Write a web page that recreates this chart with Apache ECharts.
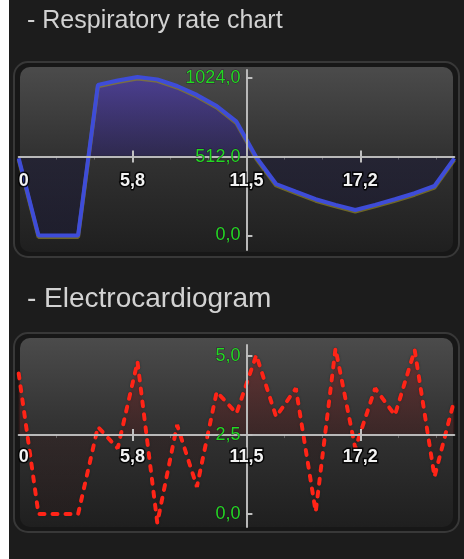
<!DOCTYPE html>
<html>
<head>
<meta charset="utf-8">
<script src="https://cdn.jsdelivr.net/npm/echarts@6/dist/echarts.min.js"></script>
<style>
html,body{margin:0;padding:0;background:#1c1c1c;}
#c{width:464px;height:559px;}
</style>
</head>
<body>
<div id="c"></div>
<script>
// ---------- data ----------
const xCategories = [0,1,2,3,4,5,6,7,8,9,10,11,12,13,14,15,16,17,18,19,20,21,22];
const xTickValues = [0, 5.75, 11.5, 17.25];
const xTickLabels = ['0', '5,8', '11,5', '17,2'];

const respTitle = '- Respiratory rate chart';
const respValues = [501, 0, 0, 0, 978, 1007, 1030, 1014, 971, 913, 841, 739, 508, 334, 284, 235, 198, 165, 198, 235, 274, 321, 501];
const respYTicks = [0, 512, 1024];
const respYLabels = ['0,0', '512,0', '1024,0'];
const respBaseline = 512;

const ecgTitle = '- Electrocardiogram';
const ecgValues = [4.45, 0, 0, 0, 2.76, 2.08, 4.82, -0.28, 2.82, 0.86, 3.87, 3.19, 5.03, 3.08, 3.98, 0.07, 5.24, 2.08, 3.98, 3.13, 5.19, 1.18, 3.61];
const ecgYTicks = [0, 2.5, 5];
const ecgYLabels = ['0,0', '2,5', '5,0'];
const ecgBaseline = 2.5;

// ---------- layout ----------
const G1 = {left: 18.7, top: 70, width: 435.6, height: 180, ymin: -95, ymax: 1075};
const G2 = {left: 18.7, top: 345, width: 435.6, height: 182, ymin: -0.41, ymax: 5.35};
const XMIN = 0, XMAX = 22;

function yPix(g, v){ return g.top + (g.ymax - v) / (g.ymax - g.ymin) * g.height; }
function xPix(g, v){ return g.left + (v - XMIN) / (XMAX - XMIN) * g.width; }

const chart = echarts.init(document.getElementById('c'), null, {renderer: 'canvas'});

function xAxes(g, gridIndex, base, labelMargin){
  const off = yPix(g, base) - (g.top + g.height);
  const common = {
    type: 'value', gridIndex: gridIndex, min: XMIN, max: XMAX, interval: 5.75,
    position: 'bottom', offset: off, z: 4,
    axisLine: {onZero: false, show: true, lineStyle: {color: '#b9b9b9', width: 2}},
    splitLine: {show: false}
  };
  return [
    Object.assign({}, common, {
      axisTick: {show: true, customValues: [5.75, 17.25], length: 6, inside: false, lineStyle: {color: '#c0c0c0', width: 2}},
      minorTick: {show: true, splitNumber: 3, length: 3, lineStyle: {color: 'rgba(200,200,200,0.35)', width: 1}},
      axisLabel: {
        show: true, customValues: xTickValues, margin: labelMargin,
        color: '#f2f2f2', fontSize: 18, fontWeight: 'bold', fontFamily: 'Liberation Sans, Arial, sans-serif',
        textBorderColor: 'rgba(0,0,0,0.85)', textBorderWidth: 3,
        alignMinLabel: 'left',
        formatter: function(v){ const i = xTickValues.indexOf(v); return i >= 0 ? xTickLabels[i] : ''; }
      }
    }),
    Object.assign({}, common, {
      axisLine: {show: false, onZero: false},
      axisTick: {show: true, customValues: [5.75, 17.25], length: 6, inside: true, lineStyle: {color: '#c0c0c0', width: 2}},
      axisLabel: {show: false}
    })
  ];
}

function yAxis(g, gridIndex, ticks, labels){
  const off = -(xPix(g, 11.5) - g.left);
  return {
    type: 'value', gridIndex: gridIndex, min: g.ymin, max: g.ymax, position: 'left', offset: off, z: 4,
    axisLine: {show: true, onZero: false, lineStyle: {color: '#b9b9b9', width: 2}},
    axisTick: {show: true, customValues: ticks, length: 6, inside: true, lineStyle: {color: '#c0c0c0', width: 2}},
    splitLine: {show: false},
    axisLabel: {
      show: true, customValues: ticks, margin: 6,
      color: '#22d822', fontSize: 18, fontFamily: 'Liberation Sans, Arial, sans-serif',
      textBorderColor: 'rgba(40,0,40,0.6)', textBorderWidth: 1,
      formatter: function(v){ const i = ticks.indexOf(v); return i >= 0 ? labels[i] : ''; }
    }
  };
}

function panel(top, bottom){
  return [
    {type: 'rect', z: 0, shape: {x: 14, y: top, width: 445, height: bottom - top, r: 14},
     style: {fill: '#171717', stroke: '#383838', lineWidth: 2}},
    {type: 'rect', z: 0, shape: {x: 20, y: top + 5, width: 433, height: bottom - top - 10, r: 10},
     style: {fill: new echarts.graphic.LinearGradient(0, 0, 0, 1, [
       {offset: 0, color: '#4b4b4b'}, {offset: 0.45, color: '#333333'}, {offset: 1, color: '#1f1f1f'}])}}
  ];
}

const titleStyle = {fontFamily: 'Liberation Sans, Arial, sans-serif', fill: '#d2d2d2', textVerticalAlign: 'middle',
  shadowColor: 'rgba(255,255,255,0.25)', shadowBlur: 2};

const respAxisY = yPix(G1, respBaseline);
const ecgAxisY = yPix(G2, ecgBaseline);

const respGrad = new echarts.graphic.LinearGradient(0, G1.top, 0, G1.top + G1.height, [
  {offset: 0, color: 'rgba(80,60,190,0.95)'},
  {offset: (respAxisY - G1.top) / G1.height - 0.01, color: 'rgba(45,36,100,0.85)'},
  {offset: (respAxisY - G1.top) / G1.height, color: 'rgba(28,27,52,0.85)'},
  {offset: 1, color: 'rgba(28,27,52,0.85)'}
], true);
const ecgGrad = new echarts.graphic.LinearGradient(0, G2.top, 0, G2.top + G2.height, [
  {offset: 0, color: 'rgba(120,40,40,0.9)'},
  {offset: (ecgAxisY - G2.top) / G2.height - 0.01, color: 'rgba(70,30,30,0.7)'},
  {offset: (ecgAxisY - G2.top) / G2.height, color: 'rgba(50,28,28,0.55)'},
  {offset: 1, color: 'rgba(40,25,25,0.5)'}
], true);

const option = {
  backgroundColor: '#1c1c1c',
  animation: false,
  graphic: {elements: [
    {type: 'rect', z: 0, shape: {x: 0, y: 0, width: 9, height: 559}, style: {fill: '#ffffff'}},
    {type: 'text', z: 10, style: Object.assign({text: respTitle, x: 27, y: 21, fontSize: 25}, titleStyle)},
    {type: 'text', z: 10, style: Object.assign({text: ecgTitle, x: 27, y: 299, fontSize: 28}, titleStyle)}
  ].concat(panel(62, 257)).concat(panel(333, 532))},
  grid: [
    {left: G1.left, top: G1.top, width: G1.width, height: G1.height, containLabel: false, outerBoundsMode: 'none'},
    {left: G2.left, top: G2.top, width: G2.width, height: G2.height, containLabel: false, outerBoundsMode: 'none'}
  ],
  xAxis: xAxes(G1, 0, respBaseline, 15).concat(xAxes(G2, 1, ecgBaseline, 13)),
  yAxis: [yAxis(G1, 0, respYTicks, respYLabels), yAxis(G2, 1, ecgYTicks, ecgYLabels)],
  series: [
    {
      type: 'line', xAxisIndex: 0, yAxisIndex: 0, z: 3,
      data: xCategories.map((x, i) => [x, respValues[i]]),
      symbol: 'none',
      lineStyle: {color: '#3e4cd8', width: 4, shadowColor: 'rgba(140,130,40,0.7)', shadowOffsetY: 1.5, shadowBlur: 0},
      areaStyle: {origin: respBaseline, color: respGrad}
    },
    {
      type: 'line', xAxisIndex: 2, yAxisIndex: 1, z: 3,
      data: xCategories.map((x, i) => [x, ecgValues[i]]),
      symbol: 'none',
      lineStyle: {color: '#ff2417', width: 4, type: [5, 8], cap: 'round', shadowColor: 'rgba(0,40,40,0.6)', shadowBlur: 2},
      areaStyle: {origin: ecgBaseline, color: ecgGrad}
    }
  ]
};
chart.setOption(option);
</script>
</body>
</html>
